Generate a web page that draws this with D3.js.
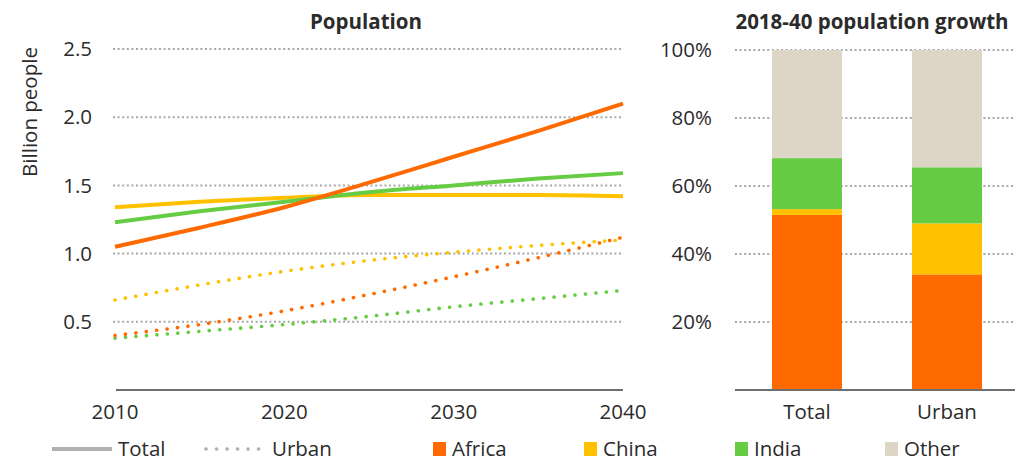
<!DOCTYPE html>
<html><head><meta charset="utf-8">
<script src="https://cdn.jsdelivr.net/npm/d3@7"></script>
<style>
body{margin:0;background:#fff;}
text{font-family:"Open Sans","Noto Sans",sans-serif;fill:#2b2b2b;}
</style></head>
<body><svg id="c" width="1015" height="462"></svg>
<script>
const years = [2010, 2015, 2020, 2025, 2030, 2035, 2040];
const africaTotal = [1.05, 1.19, 1.34, 1.52, 1.71, 1.90, 2.10];
const chinaTotal  = [1.34, 1.38, 1.41, 1.43, 1.43, 1.43, 1.42];
const indiaTotal  = [1.23, 1.31, 1.38, 1.45, 1.50, 1.55, 1.59];
const africaUrban = [0.40, 0.48, 0.58, 0.70, 0.83, 0.97, 1.12];
const chinaUrban  = [0.66, 0.77, 0.87, 0.95, 1.01, 1.06, 1.10];
const indiaUrban  = [0.38, 0.43, 0.48, 0.54, 0.61, 0.67, 0.73];
const yTicks = [0.5, 1.0, 1.5, 2.0, 2.5];
const xTicks = [2010, 2020, 2030, 2040];

const barCategories = ["Total", "Urban"];
const regions = ["Africa", "China", "India", "Other"];
const growthAfrica = [51.5, 34.0];
const growthChina  = [1.7, 15.0];
const growthIndia  = [15.0, 16.5];
const growthOther  = [31.8, 34.5];
const pctTicks = [20, 40, 60, 80, 100];

const colors = {Africa:"#FF6A00", China:"#FFC000", India:"#66CC44", Other:"#DDD6C6"};
const FS = 20.5;

const svg = d3.select("#c");

// ---------- Left chart ----------
const x = d3.scaleLinear().domain([2010, 2040]).range([115, 623]);
const y = d3.scaleLinear().domain([0, 2.5]).range([390, 49]);

svg.append("g").selectAll("line").data(yTicks).join("line")
  .attr("x1", 113).attr("x2", 623)
  .attr("y1", d => y(d)).attr("y2", d => y(d))
  .attr("stroke", "#a8a8a8").attr("stroke-width", 2).attr("stroke-dasharray", "2 2.6");

svg.append("g").selectAll("text").data(yTicks).join("text")
  .attr("x", 92).attr("y", d => y(d)).attr("dy", "0.35em")
  .attr("text-anchor", "end").attr("font-size", FS).text(d => d.toFixed(1));

svg.append("line").attr("x1", 116).attr("x2", 623).attr("y1", 390).attr("y2", 390)
  .attr("stroke", "#6e6e6e").attr("stroke-width", 2);

svg.append("g").selectAll("text").data(xTicks).join("text")
  .attr("x", d => x(d)).attr("y", 412).attr("dy", "0.35em")
  .attr("text-anchor", "middle").attr("font-size", FS).text(d => d);

svg.append("text").attr("transform", "translate(30,112) rotate(-90)")
  .attr("text-anchor", "middle").attr("dy", "0.35em").attr("font-size", FS).text("Billion people");

svg.append("text").attr("x", 366).attr("y", 22).attr("dy", "0.35em")
  .attr("text-anchor", "middle").attr("font-size", FS).attr("font-weight", "bold").text("Population");

const line = d3.line().x((d, i) => x(years[i])).y(d => y(d)).curve(d3.curveMonotoneX);

const urbanSeries = [[indiaUrban, "India"], [africaUrban, "Africa"], [chinaUrban, "China"]];
svg.append("g").selectAll("path").data(urbanSeries).join("path")
  .attr("d", d => line(d[0])).attr("fill", "none")
  .attr("stroke", d => colors[d[1]]).attr("stroke-width", 3.6)
  .attr("stroke-linecap", "round").attr("stroke-dasharray", "0.1 10.4");

const totalSeries = [[chinaTotal, "China"], [indiaTotal, "India"], [africaTotal, "Africa"]];
svg.append("g").selectAll("path").data(totalSeries).join("path")
  .attr("d", d => line(d[0])).attr("fill", "none")
  .attr("stroke", d => colors[d[1]]).attr("stroke-width", 4);

// ---------- Right chart ----------
const xb = d3.scaleBand().domain(barCategories).range([737, 1017]).paddingInner(0.5).paddingOuter(0.25);
const yp = d3.scaleLinear().domain([0, 100]).range([390, 50]);

svg.append("g").selectAll("line").data(pctTicks).join("line")
  .attr("x1", 735).attr("x2", 1015)
  .attr("y1", d => yp(d)).attr("y2", d => yp(d))
  .attr("stroke", "#a8a8a8").attr("stroke-width", 2).attr("stroke-dasharray", "2 2.6");

svg.append("g").selectAll("text").data(pctTicks).join("text")
  .attr("x", 712).attr("y", d => yp(d)).attr("dy", "0.35em")
  .attr("text-anchor", "end").attr("font-size", FS).text(d => d + "%");

const table = barCategories.map((c, i) => ({cat: c, Africa: growthAfrica[i], China: growthChina[i], India: growthIndia[i], Other: growthOther[i]}));
const stack = d3.stack().keys(regions)(table);
svg.append("g").selectAll("g").data(stack).join("g")
  .attr("fill", d => colors[d.key])
  .selectAll("rect").data(d => d).join("rect")
  .attr("x", d => xb(d.data.cat)).attr("width", xb.bandwidth())
  .attr("y", d => yp(d[1])).attr("height", d => yp(d[0]) - yp(d[1]));

svg.append("line").attr("x1", 735).attr("x2", 1015).attr("y1", 390).attr("y2", 390)
  .attr("stroke", "#6e6e6e").attr("stroke-width", 2);

svg.append("g").selectAll("text").data(barCategories).join("text")
  .attr("x", d => xb(d) + xb.bandwidth() / 2).attr("y", 412).attr("dy", "0.35em")
  .attr("text-anchor", "middle").attr("font-size", FS).text(d => d);

svg.append("text").attr("x", 872).attr("y", 22).attr("dy", "0.35em")
  .attr("text-anchor", "middle").attr("font-size", FS).attr("font-weight", "bold").text("2018-40 population growth");

// ---------- Legend ----------
const lg = svg.append("g");
lg.append("line").attr("x1", 52).attr("x2", 112).attr("y1", 449).attr("y2", 449)
  .attr("stroke", "#b0b0b0").attr("stroke-width", 4);
lg.append("text").attr("x", 118).attr("y", 449).attr("dy", "0.35em").attr("font-size", FS).text("Total");
lg.append("line").attr("x1", 206).attr("x2", 262).attr("y1", 449).attr("y2", 449)
  .attr("stroke", "#b0b0b0").attr("stroke-width", 3.6).attr("stroke-linecap", "round").attr("stroke-dasharray", "0.1 10.4");
lg.append("text").attr("x", 272).attr("y", 449).attr("dy", "0.35em").attr("font-size", FS).text("Urban");

const legX = [433, 584, 735, 885];
regions.forEach((r, i) => {
  lg.append("rect").attr("x", legX[i]).attr("y", 442).attr("width", 13).attr("height", 14).attr("fill", colors[r]);
  lg.append("text").attr("x", legX[i] + 19).attr("y", 449).attr("dy", "0.35em").attr("font-size", FS).text(r);
});
</script></body></html>
